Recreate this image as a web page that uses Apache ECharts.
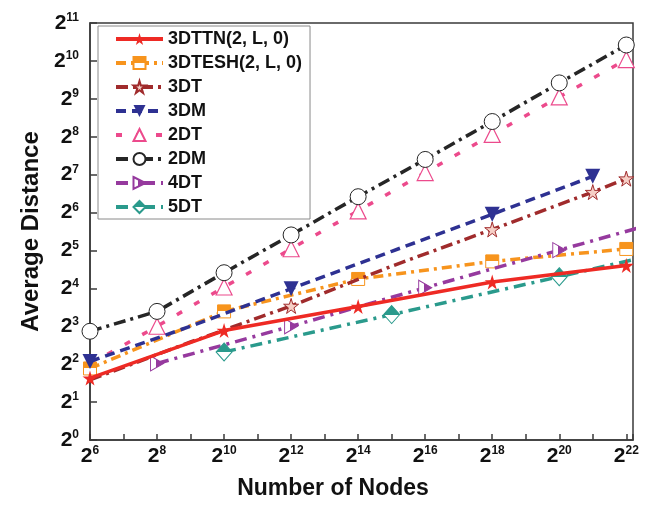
<!DOCTYPE html>
<html>
<head>
<meta charset="utf-8">
<script src="https://cdn.jsdelivr.net/npm/echarts@6/dist/echarts.min.js"></script>
<style>
  html, body { margin: 0; padding: 0; background: #fff; }
  #main { width: 649px; height: 505px; }
</style>
</head>
<body>
<div id="main"></div>
<script>
// x values are exponents of 2 (number of nodes = 2^n), y values are average distances
const ttnExp = [6, 10, 14, 18, 22];
const ttnDist = [3.1, 7.4, 11.5, 18, 24.3];

const eshExp = [6, 10, 14, 18, 22];
const eshDist = [3.7, 10.5, 19, 26.2, 32.9];

const t3Exp = [6, 9, 12, 15, 18, 21, 22];
const t3Dist = [3, 6, 11.6, 24, 47, 93, 119];

const m3Exp = [6, 9, 12, 15, 18, 21];
const m3Dist = [4.2, 8, 15.9, 31.5, 62, 124];

const t2Exp = [6, 8, 10, 12, 14, 16, 18, 20, 22];
const t2Dist = [4, 8, 16.4, 33, 66, 133, 267, 530, 1050];

const m2Exp = [6, 8, 10, 12, 14, 16, 18, 20, 22];
const m2Dist = [7.3, 10.5, 21.3, 42.5, 85.5, 169, 338, 685, 1370];

const t4Exp = [8, 12, 16, 20, 24];
const t4Dist = [4.05, 8, 16.2, 32.2, 64];

const t5Exp = [10, 15, 20, 25];
const t5Dist = [5, 9.9, 19.8, 40];

const xTickExps = [6, 8, 10, 12, 14, 16, 18, 20, 22];
const yTickExps = [0, 1, 2, 3, 4, 5, 6, 7, 8, 9, 10, 11];

const FONT = '"Liberation Sans", Arial, sans-serif';
const STAR = 'path://M50,0 L61,35 L98,35 L68,57 L79,91 L50,70 L21,91 L32,57 L2,35 L39,35 Z';
const RTRI = 'path://M0,0 L10,6 L0,12 Z';

function half(dir, color, stop) {
  // two-tone fill for the half-filled markers
  let c = dir === 'v' ? [0, 0, 0, 1] : [0, 0, 1, 0];
  let first = dir === 'v' ? color : '#fff';
  let second = dir === 'v' ? '#fff' : color;
  return new echarts.graphic.LinearGradient(c[0], c[1], c[2], c[3], [
    { offset: 0, color: first },
    { offset: stop, color: first },
    { offset: stop, color: second },
    { offset: 1, color: second }
  ]);
}

function pts(exps, dists, hidden) {
  hidden = hidden || [];
  return exps.map(function (e, i) {
    let item = { value: [e, Math.log2(dists[i])] };
    if (hidden.indexOf(i) >= 0) item.symbol = 'none';
    return item;
  });
}

function sup(v) {
  return '{b|2}{s|' + v + '}';
}

let tickRich = {
  b: { fontFamily: FONT, fontWeight: 'bold', fontSize: 21, color: '#111' },
  s: { fontFamily: FONT, fontWeight: 'bold', fontSize: 12, color: '#111', padding: [0, 0, 10, 0] }
};

let chart = echarts.init(document.getElementById('main'));

let option = {
  backgroundColor: '#fff',
  animation: false,
  grid: {
    left: 90, right: 16, top: 23, bottom: 63,
    show: true, borderColor: '#3a3a3a', borderWidth: 1.5
  },
  legend: {
    orient: 'vertical',
    left: 98, top: 26,
    padding: [4, 8, 3, 16],
    itemWidth: 47, itemHeight: 15, itemGap: 6,
    borderColor: '#8a8a8a', borderWidth: 1,
    backgroundColor: '#fff',
    lineStyle: { width: 4 },
    textStyle: { fontFamily: FONT, fontWeight: 'bold', fontSize: 18, lineHeight: 18, color: '#111' },
    data: ['3DTTN(2, L, 0)', '3DTESH(2, L, 0)', '3DT', '3DM', '2DT', '2DM', '4DT', '5DT']
  },
  xAxis: {
    type: 'value', min: 6, max: 22.2, interval: 1,
    name: 'Number of Nodes', nameLocation: 'middle', nameGap: 37,
    nameTextStyle: { fontFamily: FONT, fontWeight: 'bold', fontSize: 23, color: '#111', padding: [0, 57, 0, 0] },
    axisLine: { lineStyle: { color: '#3a3a3a', width: 1.5 } },
    axisTick: { inside: true, length: 6, lineStyle: { color: '#3a3a3a', width: 1.5 } },
    splitLine: { show: false },
    axisLabel: {
      margin: 5,
      formatter: function (v) { return xTickExps.indexOf(v) >= 0 ? sup(v) : ''; },
      rich: tickRich
    }
  },
  yAxis: {
    type: 'value', min: 0, max: 11, interval: 1,
    name: 'Average Distance', nameLocation: 'middle', nameGap: 46,
    nameTextStyle: { fontFamily: FONT, fontWeight: 'bold', fontSize: 24, color: '#111' },
    axisLine: { lineStyle: { color: '#3a3a3a', width: 1.5 } },
    axisTick: { inside: true, length: 7, lineStyle: { color: '#3a3a3a', width: 1.5 } },
    splitLine: { show: false },
    axisLabel: {
      margin: 11,
      formatter: function (v) { return yTickExps.indexOf(v) >= 0 ? sup(v) : ''; },
      rich: tickRich
    }
  },
  series: [
    {
      name: '3DTTN(2, L, 0)', type: 'line', z: 10,
      data: pts(ttnExp, ttnDist),
      symbol: STAR, symbolSize: 15,
      lineStyle: { color: '#ee2a24', width: 3.5, type: 'solid' },
      itemStyle: { color: '#ee2a24' }
    },
    {
      name: '3DTESH(2, L, 0)', type: 'line', z: 4,
      data: pts(eshExp, eshDist),
      symbol: 'rect', symbolSize: 13,
      lineStyle: { color: '#f7941d', width: 3.5, type: [10, 5, 3, 5] },
      itemStyle: { color: half('v', '#f7941d', 0.5), borderColor: '#f7941d', borderWidth: 1 }
    },
    {
      name: '3DT', type: 'line', z: 5,
      data: pts(t3Exp, t3Dist, [0, 1, 3]),
      symbol: STAR, symbolSize: 15,
      lineStyle: { color: '#a02b2c', width: 3.5, type: [12, 5, 3, 5] },
      itemStyle: { color: '#f6cfc6', borderColor: '#a02b2c', borderWidth: 1 }
    },
    {
      name: '3DM', type: 'line', z: 6,
      data: pts(m3Exp, m3Dist, [1, 3]),
      symbol: 'triangle', symbolRotate: 180, symbolSize: 15,
      lineStyle: { color: '#2e3192', width: 3.5, type: [10, 6] },
      itemStyle: { color: '#2e3192' }
    },
    {
      name: '2DT', type: 'line', z: 3,
      data: pts(t2Exp, t2Dist, [0]),
      symbol: 'triangle', symbolSize: 16,
      lineStyle: { color: '#ec4a8c', width: 3.5, type: [6, 14] },
      itemStyle: { color: '#fff', borderColor: '#ec4a8c', borderWidth: 1.2 }
    },
    {
      name: '2DM', type: 'line', z: 4,
      data: pts(m2Exp, m2Dist),
      symbol: 'circle', symbolSize: 16,
      lineStyle: { color: '#262626', width: 3.5, type: [12, 5, 3, 5] },
      itemStyle: { color: '#fff', borderColor: '#262626', borderWidth: 1 }
    },
    {
      name: '4DT', type: 'line', z: 5,
      data: pts(t4Exp, t4Dist),
      symbol: RTRI, symbolSize: [13, 15],
      lineStyle: { color: '#963a9e', width: 3.5, type: [12, 6, 3, 6] },
      itemStyle: { color: half('h', '#963a9e', 0.4), borderColor: '#963a9e', borderWidth: 1 }
    },
    {
      name: '5DT', type: 'line', z: 5,
      data: pts(t5Exp, t5Dist),
      symbol: 'diamond', symbolSize: [16, 18],
      lineStyle: { color: '#2a9a8c', width: 3.5, type: [12, 6, 3, 6] },
      itemStyle: { color: half('v', '#2a9a8c', 0.5), borderColor: '#2a9a8c', borderWidth: 1 }
    }
  ]
};

chart.setOption(option);
</script>
</body>
</html>
